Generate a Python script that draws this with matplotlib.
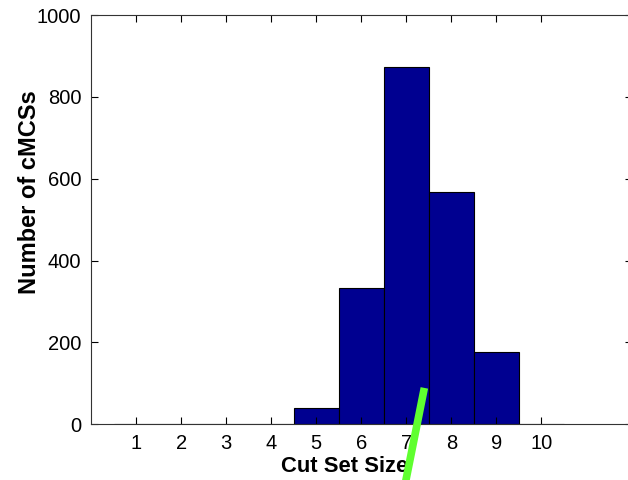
import matplotlib
matplotlib.use("Agg")
import matplotlib.pyplot as plt

# Histogram of cut set sizes
sizes = [1, 2, 3, 4, 5, 6, 7, 8, 9, 10]
counts = [0, 0, 0, 0, 41, 332, 873, 567, 176, 0]
x_ticks = [1, 2, 3, 4, 5, 6, 7, 8, 9, 10]
y_ticks = [0, 200, 400, 600, 800, 1000]

# stray green stroke crossing the plot
stroke_x = [7.40, 6.93]
stroke_y = [89, -170]

plt.rcParams['font.family'] = ['Liberation Sans', 'DejaVu Sans']

fig = plt.figure(figsize=(6.28, 4.8), dpi=100, facecolor='white')
ax = fig.add_axes([0.1449, 0.116, 0.8608, 0.8527])

ax.bar(sizes, counts, width=1.0, color='#000090', edgecolor='black', linewidth=0.8)

ax.set_xlim(0, 12)
ax.set_ylim(0, 1000)
ax.set_xticks(x_ticks)
ax.set_yticks(y_ticks)
ax.tick_params(direction='in', length=5, width=0.8, labelsize=14.5,
               top=True, right=True, pad=7)
for s in ax.spines.values():
    s.set_linewidth(0.8)
    s.set_color('#333333')

# labels placed like the MATLAB original (slightly off-centre)
ax.set_xlabel('Cut Set Size', fontsize=15.8, fontweight='bold')
ax.set_ylabel('Number of cMCSs', fontsize=17, fontweight='bold')
ax.xaxis.set_label_coords(0.469, -0.102, transform=ax.transAxes)
ax.yaxis.set_label_coords(-0.113, 0.568, transform=ax.transAxes)
ax.xaxis.label.set_va('center')
ax.yaxis.label.set_va('center')

ax.plot(stroke_x, stroke_y, color='#5fff2f', linewidth=5.5,
        solid_capstyle='butt', clip_on=False, zorder=5)

fig.savefig('out.png', dpi=100)
